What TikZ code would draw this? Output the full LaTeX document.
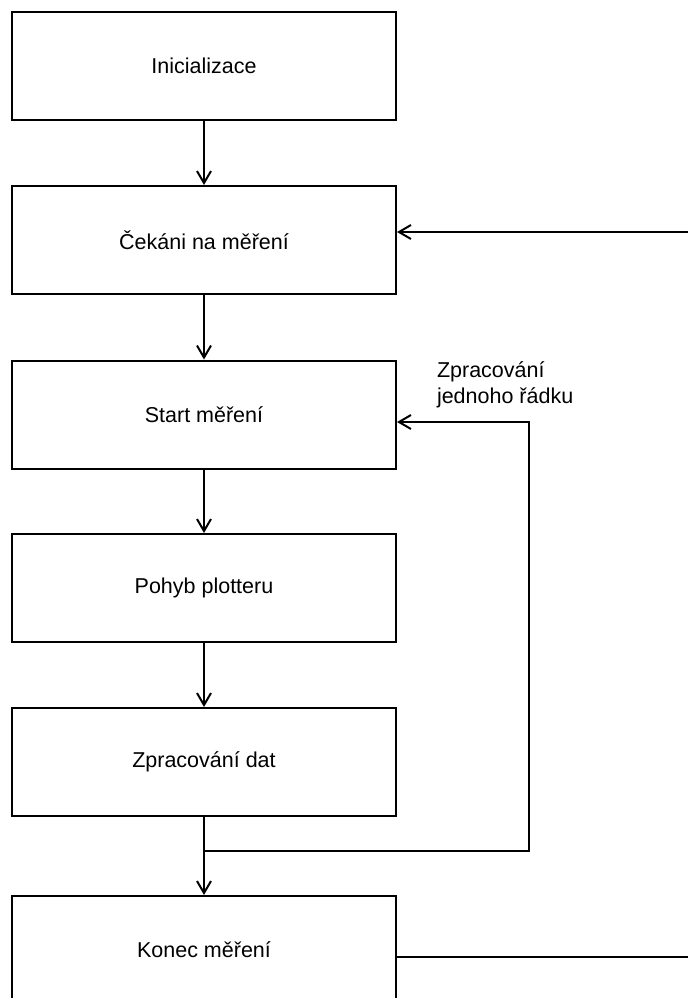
\documentclass[tikz,border=0pt]{standalone}
\usepackage{fontspec}
\setmainfont{Liberation Sans}
\usetikzlibrary{arrows.meta}

\tikzset{
  box/.style={draw, line width=1pt, minimum width=192pt, minimum height=54pt,
    inner sep=0pt, font=\fontsize{10.75}{13}\selectfont},
  arr/.style={-{Straight Barb[length=6pt,width=7pt]}},
}

\begin{document}
\begin{tikzpicture}[x=0.5pt, y=-0.5pt, line width=1pt]
\useasboundingbox (0,0) rectangle (688,998);
% states of the measurement
\node[box] (init) at (204,66) {Inicializace};
\node[box] (wait) at (204,240) {Čekáni na měření};
\node[box] (start) at (204,414.5) {Start měření};
\node[box] (move) at (204,588) {Pohyb plotteru};
\node[box] (proc) at (204,762) {Zpracování dat};
\node[box] (end) at (204,950) {Konec měření};
% main flow
\draw[arr] (init.south) -- (wait.north);
\draw[arr] (wait.south) -- (start.north);
\draw[arr] (start.south) -- (move.north);
\draw[arr] (move.south) -- (proc.north);
\draw[arr] (proc.south) -- (end.north);
% loop over one line
\coordinate (split) at (proc.south |- 0,851);
\coordinate (back) at (529,851);
\draw[arr] (split) -- (back) |- ([yshift=-3.75pt]start.east);
\node[anchor=west, align=left, inner sep=0pt, font=\fontsize{10.75}{13}\selectfont]
  (loop) at (436,385) {Zpracování\\jednoho řádku};
% return to waiting
\coordinate (retin) at (688,232);
\draw[arr] (retin) -- (retin -| wait.east);
\coordinate (retout) at (688,957);
\draw (retout -| end.east) -- (retout);
\end{tikzpicture}
\end{document}
